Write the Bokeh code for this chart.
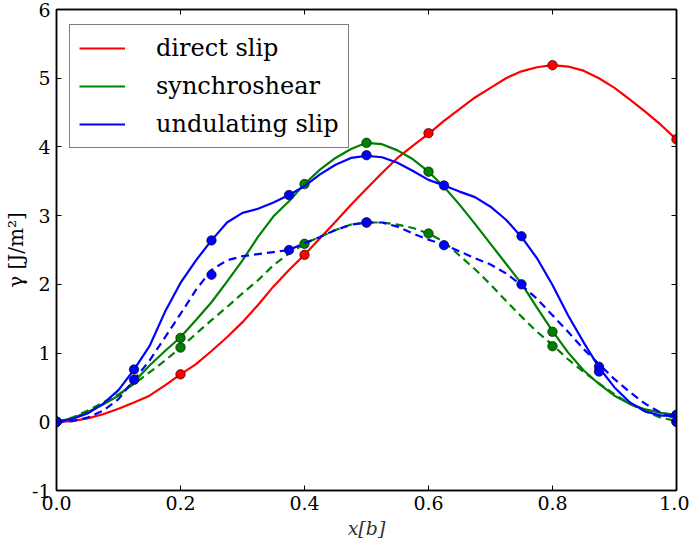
from bokeh.plotting import figure
from bokeh.models import Range1d, LinearAxis, Legend, LegendItem, FixedTicker
from bokeh.embed import file_html
from bokeh.resources import INLINE

# ---- data ----
curve_x = [0.0, 0.025, 0.05, 0.075, 0.1, 0.125, 0.15, 0.175, 0.2, 0.225, 0.25,
           0.275, 0.3, 0.325, 0.35, 0.375, 0.4, 0.425, 0.45, 0.475, 0.5,
           0.525, 0.55, 0.575, 0.6, 0.625, 0.65, 0.675, 0.7, 0.725, 0.75,
           0.775, 0.8, 0.825, 0.85, 0.875, 0.9, 0.925, 0.95, 0.975, 1.0]
direct_curve = [0.0, 0.01, 0.05, 0.11, 0.19, 0.28, 0.38, 0.53, 0.69, 0.84, 1.03,
                1.23, 1.45, 1.70, 1.97, 2.21, 2.43, 2.67, 2.91, 3.16, 3.39,
                3.62, 3.84, 4.02, 4.19, 4.38, 4.55, 4.72, 4.86, 5.00, 5.10,
                5.16, 5.19, 5.17, 5.11, 5.00, 4.86, 4.69, 4.51, 4.32, 4.11]
synchro_curve = [0.0, 0.05, 0.14, 0.25, 0.38, 0.58, 0.82, 1.03, 1.23, 1.48, 1.74,
                 2.04, 2.35, 2.69, 2.99, 3.21, 3.46, 3.67, 3.84, 3.97, 4.06,
                 4.04, 3.95, 3.82, 3.64, 3.42, 3.16, 2.88, 2.59, 2.30, 2.01,
                 1.66, 1.32, 1.01, 0.75, 0.55, 0.38, 0.26, 0.18, 0.13, 0.10]
synchro_dash_curve = [0.0, 0.06, 0.16, 0.28, 0.40, 0.55, 0.72, 0.89, 1.08, 1.28, 1.48,
                      1.67, 1.87, 2.06, 2.28, 2.45, 2.59, 2.69, 2.79, 2.87, 2.90,
                      2.90, 2.87, 2.82, 2.74, 2.62, 2.42, 2.22, 2.00, 1.76, 1.53,
                      1.31, 1.12, 0.91, 0.73, 0.56, 0.40, 0.26, 0.15, 0.06, 0.01]
undul_curve = [0.0, 0.04, 0.12, 0.26, 0.46, 0.76, 1.10, 1.60, 2.02, 2.35, 2.64,
               2.90, 3.04, 3.10, 3.19, 3.30, 3.43, 3.60, 3.74, 3.84, 3.87,
               3.85, 3.77, 3.65, 3.52, 3.44, 3.35, 3.27, 3.13, 2.94, 2.69,
               2.38, 1.99, 1.55, 1.16, 0.79, 0.50, 0.28, 0.15, 0.09, 0.09]
undul_dash_curve = [0.0, 0.01, 0.06, 0.16, 0.33, 0.61, 0.89, 1.23, 1.57, 1.92, 2.21,
                    2.35, 2.41, 2.44, 2.47, 2.50, 2.60, 2.69, 2.79, 2.87, 2.90,
                    2.90, 2.84, 2.74, 2.65, 2.58, 2.48, 2.38, 2.29, 2.16, 1.99,
                    1.79, 1.55, 1.31, 1.06, 0.84, 0.62, 0.43, 0.26, 0.13, 0.04]

direct_pts_x = [0.0, 0.2, 0.4, 0.6, 0.8, 1.0]
direct_pts_y = [0.0, 0.69, 2.43, 4.20, 5.19, 4.11]
synchro_pts_x = [0.0, 0.2, 0.4, 0.5, 0.6, 0.8, 1.0]
synchro_pts_y = [0.0, 1.22, 3.46, 4.06, 3.64, 1.31, 0.10]
synchro_dash_pts_y = [0.0, 1.08, 2.59, 2.90, 2.74, 1.10, 0.0]
undul_pts_x = [0.0, 0.125, 0.25, 0.375, 0.5, 0.625, 0.75, 0.875, 1.0]
undul_pts_y = [0.0, 0.76, 2.64, 3.30, 3.88, 3.44, 2.70, 0.80, 0.10]
undul_dash_pts_y = [0.0, 0.61, 2.14, 2.50, 2.90, 2.57, 2.00, 0.73, 0.0]

x_ticks = [0.0, 0.2, 0.4, 0.6, 0.8, 1.0]
x_tick_labels = ["0.0", "0.2", "0.4", "0.6", "0.8", "1.0"]
y_ticks = [-1, 0, 1, 2, 3, 4, 5, 6]
y_tick_labels = ["-1", "0", "1", "2", "3", "4", "5", "6"]

labels = ["direct slip", "synchroshear", "undulating slip"]
colors = ["#ff0000", "#008000", "#0000ff"]

FONT = "DejaVu Serif"

p = figure(width=689, height=545, output_backend="svg", toolbar_location=None,
           x_range=Range1d(0, 1), y_range=Range1d(-1, 6),
           min_border_left=56, min_border_right=13, min_border_top=9, min_border_bottom=55)
p.background_fill_color = "white"
p.border_fill_color = "white"
p.grid.visible = False
p.outline_line_color = "black"
p.outline_line_width = 1.5

def style_axis(ax, show_labels=True):
    ax.major_tick_in = 5
    ax.major_tick_out = 0
    ax.minor_tick_line_color = None
    ax.axis_line_color = "black"
    ax.axis_line_width = 1.5
    ax.major_tick_line_color = "black"
    ax.major_tick_line_width = 1
    ax.major_label_text_font = FONT
    if show_labels:
        ax.major_label_text_color = "black"
    else:
        ax.major_label_text_color = None
        ax.major_label_text_font_size = "1px"
        ax.major_label_standoff = 0

p.xaxis.ticker = FixedTicker(ticks=x_ticks)
p.xaxis.major_label_overrides = {t: l for t, l in zip(x_ticks, x_tick_labels)}
p.yaxis.ticker = FixedTicker(ticks=y_ticks)
p.yaxis.major_label_overrides = {t: l for t, l in zip(y_ticks, y_tick_labels)}
style_axis(p.xaxis[0])
style_axis(p.yaxis[0])
p.xaxis.major_label_text_font_size = "19px"
p.yaxis.major_label_text_font_size = "19px"
p.xaxis.major_label_standoff = 5
p.yaxis.major_label_standoff = 6

p.xaxis.axis_label = "x[b]"
p.xaxis.axis_label_text_font = FONT
p.xaxis.axis_label_text_font_style = "italic"
p.xaxis.axis_label_text_font_size = "19px"
p.xaxis.axis_label_standoff = 4
p.xaxis.axis_label_text_color = "#333333"

p.yaxis.axis_label = "γ [J/m²]"
p.yaxis.axis_label_text_font = FONT
p.yaxis.axis_label_text_font_style = "normal"
p.yaxis.axis_label_text_font_size = "20px"
p.yaxis.axis_label_standoff = 1
p.yaxis.axis_label_text_color = "black"

ax_top = LinearAxis(ticker=FixedTicker(ticks=x_ticks))
style_axis(ax_top, show_labels=False)
p.add_layout(ax_top, "above")
ax_right = LinearAxis(ticker=FixedTicker(ticks=y_ticks))
style_axis(ax_right, show_labels=False)
p.add_layout(ax_right, "right")

LW = 2.2
DASH = "8 5"
DOT = 9.5

r_direct = p.line(curve_x, direct_curve, line_color=colors[0], line_width=LW)
p.scatter(direct_pts_x, direct_pts_y, size=DOT, fill_color=colors[0], line_color="black", line_width=0.6)

r_syn = p.line(curve_x, synchro_curve, line_color=colors[1], line_width=LW)
p.line(curve_x, synchro_dash_curve, line_color=colors[1], line_width=LW, line_dash=DASH)
p.scatter(synchro_pts_x, synchro_pts_y, size=DOT, fill_color=colors[1], line_color="black", line_width=0.6)
p.scatter(synchro_pts_x, synchro_dash_pts_y, size=DOT, fill_color=colors[1], line_color="black", line_width=0.6)

r_und = p.line(curve_x, undul_curve, line_color=colors[2], line_width=LW)
p.line(curve_x, undul_dash_curve, line_color=colors[2], line_width=LW, line_dash=DASH)
p.scatter(undul_pts_x, undul_pts_y, size=DOT, fill_color=colors[2], line_color="black", line_width=0.6)
p.scatter(undul_pts_x, undul_dash_pts_y, size=DOT, fill_color=colors[2], line_color="black", line_width=0.6)

legend = Legend(items=[LegendItem(label=labels[0], renderers=[r_direct]),
                       LegendItem(label=labels[1], renderers=[r_syn]),
                       LegendItem(label=labels[2], renderers=[r_und])],
                location=(13, 342))
legend.margin = 0
legend.padding = 9
legend.spacing = 10
legend.glyph_width = 46
legend.glyph_height = 28
legend.label_height = 28
legend.label_standoff = 31
legend.label_text_font = FONT
legend.label_text_font_size = "24px"
legend.label_text_color = "black"
legend.border_line_color = "black"
legend.border_line_width = 1
legend.background_fill_alpha = 1.0
p.add_layout(legend, "center")

open("out.html", "w").write(file_html(p, INLINE))
